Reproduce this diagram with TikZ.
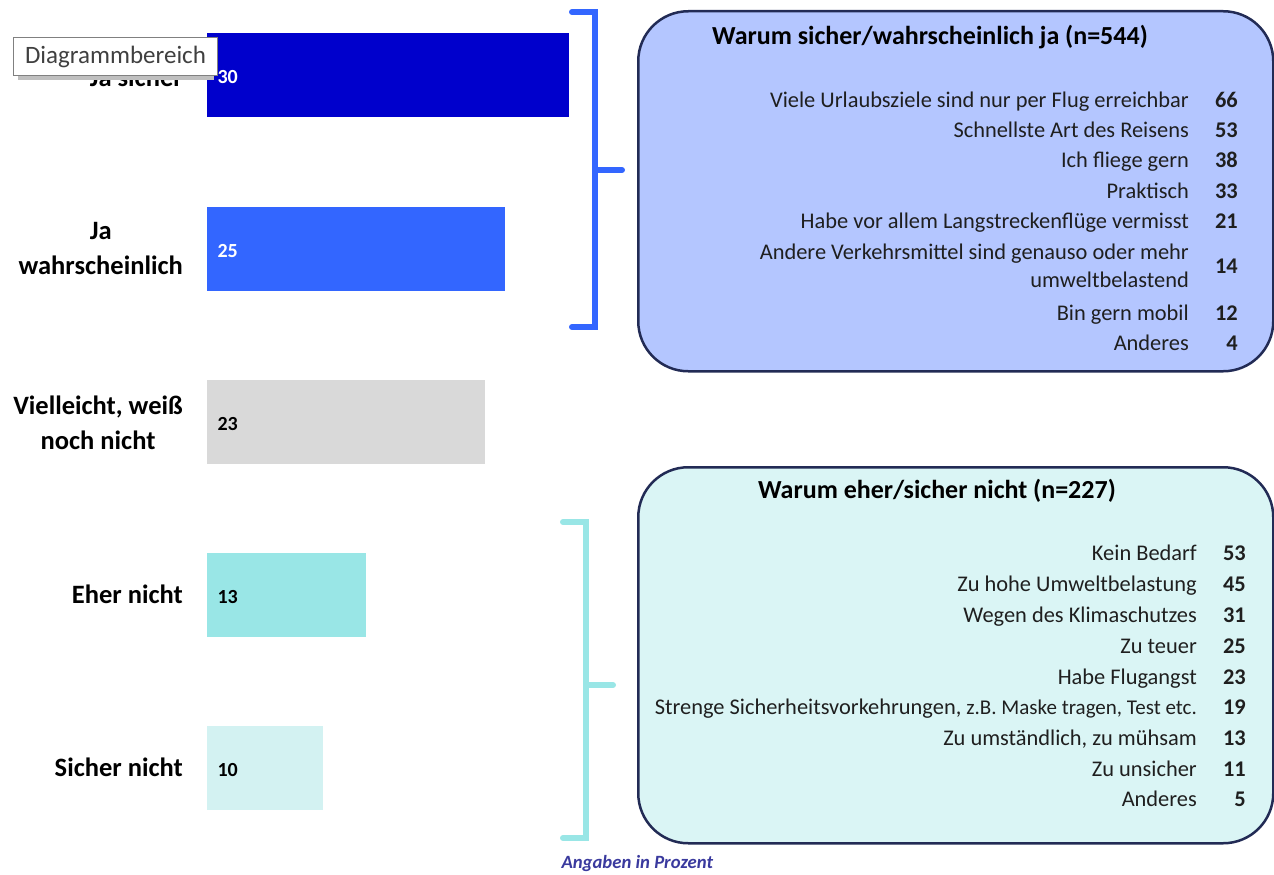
\documentclass[tikz,border=0pt]{standalone}
\usepackage{fontspec}
\setmainfont{Carlito}
\usetikzlibrary{positioning}
\definecolor{bleufonce}{HTML}{0000CC}
\definecolor{bleu}{HTML}{3366FF}
\definecolor{gris}{HTML}{D9D9D9}
\definecolor{turquoise}{HTML}{99E6E6}
\definecolor{turclair}{HTML}{D3F2F2}
\definecolor{fondja}{HTML}{B4C6FF}
\definecolor{fondnein}{HTML}{DAF5F5}
\definecolor{bordure}{HTML}{222B55}
\definecolor{prozent}{HTML}{3A3A9E}
\newcommand{\barre}[6]{\node[barre, fill=#4, minimum width=#3pt, anchor=north west] (b#1) at (207,#2) {};
	\node[valeur, text=#6, anchor=west] (v#1) at ([xshift=7pt,yshift=-2pt]b#1.west) {#5}}
\newcommand{\raison}[5]{\node[item, anchor=east] (r#1) at (#2,#3) {#4};
	\node[nombre, anchor=east] (n#1) at (#2+49,#3) {#5}}
\newcommand{\accolade}[5]{\draw[line width=6pt, line cap=round, #5] (#1,#2) -- (#1+23,#2) -- (#1+23,#4) -- (#1,#4)
	(#1+23,#3) -- (#1+50,#3)}

\begin{document}
\begin{tikzpicture}[x=1pt, y=-1pt,
	barre/.style = {minimum height=84pt, inner sep=0pt},
	valeur/.style = {font=\fontsize{20}{22}\selectfont\bfseries},
	cat/.style = {font=\fontsize{26.5}{35}\selectfont\bfseries, align=center, anchor=east, inner sep=0pt},
	item/.style = {font=\fontsize{22.4}{28}\selectfont, align=right, text=black!88, inner sep=0pt, text height=19pt, text depth=4pt},
	nombre/.style = {font=\fontsize{22.4}{26}\selectfont\bfseries, text=black!88, inner sep=0pt, text height=19pt, text depth=4pt},
	boite/.style = {draw=bordure, line width=2.5pt, rounded corners=50pt, minimum width=635pt, anchor=north west},
	titre/.style = {font=\fontsize{26}{30}\selectfont\bfseries}]
\useasboundingbox (0,0) rectangle (1274,875);
%Bars
	\barre{1}{33}{362}{bleufonce}{30}{white};
	\barre{2}{207}{298}{bleu}{25}{white};
	\barre{3}{380}{278}{gris}{23}{black};
	\barre{4}{553}{159}{turquoise}{13}{black};
	\barre{5}{726}{116}{turclair}{10}{black};
%Categories
	\node[cat] (c1) at (183,77) {Ja sicher};
	\node[cat] (c2) at (183,249) {Ja\\wahrscheinlich};
	\node[cat] (c3) at (183,423) {Vielleicht, weiß\\noch nicht};
	\node[cat] (c4) at (183,594) {Eher nicht};
	\node[cat] (c5) at (183,767) {Sicher nicht};
%Tooltip
	\fill[black!25] (18,42) rectangle (214,80);
	\node[draw=black!50, fill=white, line width=1pt, minimum width=204pt, minimum height=38pt,
		anchor=north west, font=\fontsize{25}{28}\selectfont, text=black!75] (tip) at (13,37) {Diagrammbereich};
%Braces
	\accolade{572}{12}{170}{327}{bleu};
	\accolade{563}{522}{685}{838}{turquoise};
%First box
	\node[boite, fill=fondja, minimum height=360pt] (box1) at (637,10) {};
	\node[titre] (t1) at (930,37) {Warum sicher/wahrscheinlich ja (n=544)};
	\raison{11}{1189}{100}{Viele Urlaubsziele sind nur per Flug erreichbar}{66};
	\raison{12}{1189}{130}{Schnellste Art des Reisens}{53};
	\raison{13}{1189}{160}{Ich fliege gern}{38};
	\raison{14}{1189}{191}{Praktisch}{33};
	\raison{15}{1189}{221}{Habe vor allem Langstreckenflüge vermisst}{21};
	\raison{16}{1189}{252}{Andere Verkehrsmittel sind genauso oder mehr}{};
	\raison{17}{1189}{280}{umweltbelastend}{};
	\node[nombre, anchor=east] (n16) at (1238,266) {14};
	\raison{18}{1189}{313}{Bin gern mobil}{12};
	\raison{19}{1189}{343}{Anderes}{4};
%Second box
	\node[boite, fill=fondnein, minimum height=376pt] (box2) at (637,466) {};
	\node[titre] (t2) at (937,491) {Warum eher/sicher nicht (n=227)};
	\raison{21}{1197}{553}{Kein Bedarf}{53};
	\raison{22}{1197}{584}{Zu hohe Umweltbelastung}{45};
	\raison{23}{1197}{615}{Wegen des Klimaschutzes}{31};
	\raison{24}{1197}{646}{Zu teuer}{25};
	\raison{25}{1197}{677}{Habe Flugangst}{23};
	\raison{26}{1197}{707}{Strenge Sicherheitsvorkehrungen, {\fontsize{21}{26}\selectfont z.B. Maske tragen, Test etc.}}{19};
	\raison{27}{1197}{738}{Zu umständlich, zu mühsam}{13};
	\raison{28}{1197}{769}{Zu unsicher}{11};
	\raison{29}{1197}{799}{Anderes}{5};
%Note
	\node[anchor=west, text=prozent, font=\fontsize{18.7}{22}\selectfont\bfseries\itshape] (note) at (558,864) {Angaben in Prozent};
\end{tikzpicture}
\end{document}
